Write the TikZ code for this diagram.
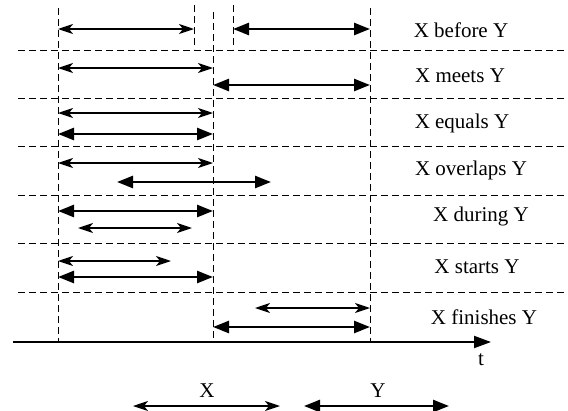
\documentclass[tikz,border=0pt]{standalone}
\usepackage{fontspec}
\setmainfont{Liberation Serif}
\usetikzlibrary{arrows.meta}
\begin{document}
\begin{tikzpicture}[x=1pt,y=-1pt,
  grid/.style={line width=0.9pt,dash pattern=on 7pt off 4pt},
  xarr/.style={line width=1.6pt,{Stealth[length=15pt,width=10pt,inset=4pt]}-{Stealth[length=15pt,width=10pt,inset=4pt]}},
  yarr/.style={line width=2.5pt,{Triangle[length=16pt,width=12pt]}-{Triangle[length=16pt,width=12pt]}},
  lbl/.style={font=\fontsize{21}{24}\selectfont,inner sep=0pt}]
\useasboundingbox (0,0) rectangle (568,410);
% horizontal separators
\foreach \yy in {50,98,146,195,243,292}{\draw[grid] (18,\yy) -- (568,\yy);}
% vertical guides
\draw[grid] (58,8) -- (58,342);
\draw[grid] (213,12) -- (213,342);
\draw[grid] (370,8) -- (370,342);
\draw[grid] (194,5) -- (194,49);
\draw[grid] (233,5) -- (233,49);
% axis
\coordinate (a0) at (13,342);
\coordinate (a1) at (491,342);
\draw[line width=2pt,-{Triangle[length=17pt,width=12pt]}] (a0) -- (a1);
\node[lbl] (t) at (481,360) {t};
% before
\coordinate (b1) at (58,29); \coordinate (b2) at (194,29);
\coordinate (b3) at (233,29); \coordinate (b4) at (370,29);
\draw[xarr] (b1) -- (b2); \draw[yarr] (b3) -- (b4);
\node[lbl] (lb) at (461,30) {X before Y};
% meets
\coordinate (m1) at (58,68); \coordinate (m2) at (213,68);
\coordinate (m3) at (213,85); \coordinate (m4) at (370,85);
\draw[xarr] (m1) -- (m2); \draw[yarr] (m3) -- (m4);
\node[lbl] (lm) at (460,76) {X meets Y};
% equals
\coordinate (e1) at (58,113); \coordinate (e2) at (213,113);
\coordinate (e3) at (58,134); \coordinate (e4) at (213,134);
\draw[xarr] (e1) -- (e2); \draw[yarr] (e3) -- (e4);
\node[lbl] (le) at (462,123) {X equals Y};
% overlaps
\coordinate (o1) at (58,163); \coordinate (o2) at (213,163);
\coordinate (o3) at (117,182); \coordinate (o4) at (271,182);
\draw[xarr] (o1) -- (o2); \draw[yarr] (o3) -- (o4);
\node[lbl] (lo) at (471,170) {X overlaps Y};
% during
\coordinate (d1) at (58,211); \coordinate (d2) at (213,211);
\coordinate (d3) at (78,228); \coordinate (d4) at (192,228);
\draw[yarr] (d1) -- (d2); \draw[xarr] (d3) -- (d4);
\node[lbl] (ld) at (481,216) {X during Y};
% starts
\coordinate (s1) at (58,261); \coordinate (s2) at (171,261);
\coordinate (s3) at (58,277); \coordinate (s4) at (213,277);
\draw[xarr] (s1) -- (s2); \draw[yarr] (s3) -- (s4);
\node[lbl] (ls) at (477,267) {X starts Y};
% finishes
\coordinate (f1) at (255,308); \coordinate (f2) at (370,308);
\coordinate (f3) at (213,327); \coordinate (f4) at (370,327);
\draw[xarr] (f1) -- (f2); \draw[yarr] (f3) -- (f4);
\node[lbl] (lf) at (484,317) {X finishes Y};
% legend
\coordinate (x1) at (133,406); \coordinate (x2) at (280,406);
\coordinate (y1) at (304,406); \coordinate (y2) at (449,406);
\draw[xarr] (x1) -- (x2); \draw[yarr] (y1) -- (y2);
\node[lbl] (lx) at (207,391) {X};
\node[lbl] (ly) at (378,391) {Y};
\end{tikzpicture}
\end{document}
